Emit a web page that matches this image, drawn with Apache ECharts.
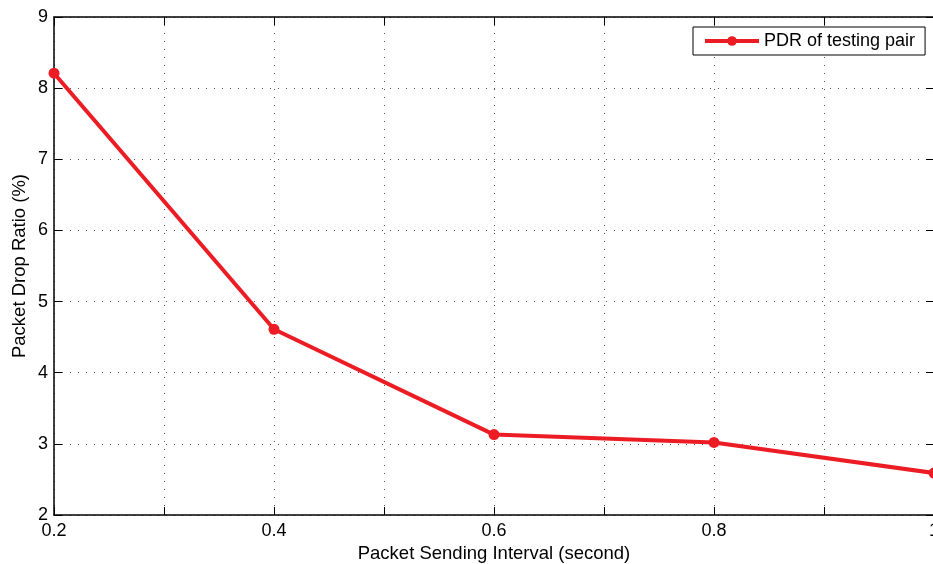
<!DOCTYPE html>
<html><head><meta charset="utf-8">
<script src="https://cdn.jsdelivr.net/npm/echarts@6/dist/echarts.min.js"></script>
<style>html,body{margin:0;padding:0;background:#fff}#c{width:933px;height:564px}</style>
</head><body><div id="c"></div>
<script>
const xValues = [0.2, 0.4, 0.6, 0.8, 1.0];
const pdrValues = [8.21, 4.61, 3.13, 3.02, 2.59];
const seriesName = 'PDR of testing pair';
const xTitle = 'Packet Sending Interval (second)';
const yTitle = 'Packet Drop Ratio (%)';

const font = 'Liberation Sans, Arial, Helvetica, sans-serif';
const red = '#ec1c24';
const chart = echarts.init(document.getElementById('c'));
const gridLine = {show: true, lineStyle: {color: '#555', type: [1, 7], width: 1}};
chart.setOption({
  animation: false,
  grid: {left: 54, top: 17, width: 880, height: 498, containLabel: false, outerBoundsMode: 'none'},
  legend: {
    left: 693, top: 27,
    padding: [5, 10, 5, 10],
    borderColor: '#000', borderWidth: 1, backgroundColor: '#fff',
    itemWidth: 54, itemHeight: 12,
    textStyle: {fontFamily: font, fontSize: 18, color: '#000'},
    lineStyle: {width: 4},
    data: [{name: seriesName}]
  },
  xAxis: [{
    type: 'value', min: 0.2, max: 1.0, interval: 0.1,
    name: xTitle, nameLocation: 'middle', nameGap: 28,
    nameTextStyle: {fontFamily: font, fontSize: 18.5, color: '#000'},
    axisLine: {show: true, onZero: false, lineStyle: {color: '#000', width: 1.5}},
    axisTick: {show: true, inside: true, length: 8, lineStyle: {color: '#000'}},
    axisLabel: {fontFamily: font, fontSize: 18, color: '#000', margin: 7,
      formatter: v => { const r = Math.round(v * 10); return r % 2 === 0 ? (r === 10 ? '1' : (r / 10).toString()) : ''; }},
    splitLine: gridLine
  }, {
    type: 'value', position: 'top', min: 0.2, max: 1.0, interval: 0.1,
    axisLine: {show: true, lineStyle: {color: '#000', width: 1.5}},
    axisTick: {show: true, inside: true, length: 8, lineStyle: {color: '#000'}},
    axisLabel: {show: false}, splitLine: {show: false}
  }],
  yAxis: [{
    type: 'value', min: 2, max: 9, interval: 1,
    name: yTitle, nameLocation: 'middle', nameGap: 25, nameRotate: 90, nameMoveOverlap: false,
    nameTextStyle: {fontFamily: font, fontSize: 18.5, color: '#000'},
    axisLine: {show: true, onZero: false, lineStyle: {color: '#000', width: 1.5}},
    axisTick: {show: true, inside: true, length: 8, lineStyle: {color: '#000'}},
    axisLabel: {fontFamily: font, fontSize: 18, color: '#000', margin: 6},
    splitLine: gridLine
  }, {
    type: 'value', position: 'right', min: 2, max: 9, interval: 1,
    axisLine: {show: true, lineStyle: {color: '#000', width: 1.5}},
    axisTick: {show: true, inside: true, length: 8},
    axisLabel: {show: false}, splitLine: {show: false}
  }],
  series: [{
    name: seriesName, type: 'line',
    data: xValues.map((x, i) => [x, pdrValues[i]]),
    symbol: 'circle', symbolSize: 11,
    lineStyle: {color: red, width: 4},
    itemStyle: {color: red},
    clip: false
  }]
});
</script></body></html>
